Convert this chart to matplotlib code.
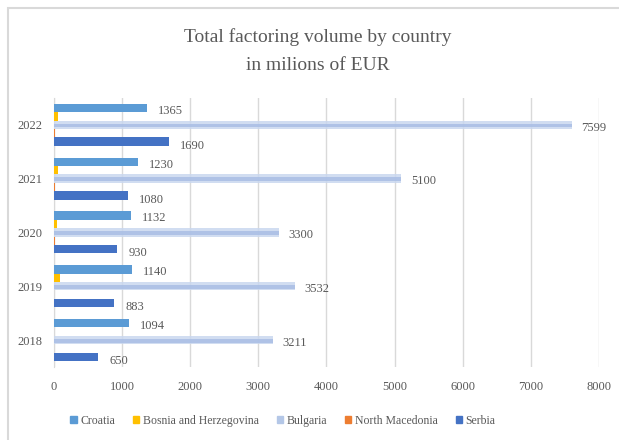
import numpy as np
import matplotlib
matplotlib.use("Agg")
import matplotlib.pyplot as plt
from matplotlib.patches import Rectangle, Patch

years = ["2018", "2019", "2020", "2021", "2022"]
croatia = [1094, 1140, 1132, 1230, 1365]
bosnia = [0, 83, 40, 63, 63]
bulgaria = [3211, 3532, 3300, 5100, 7599]
north_macedonia = [0, 0, 8, 8, 8]
serbia = [650, 883, 930, 1080, 1690]

plt.rcParams["font.family"] = ["Liberation Serif", "DejaVu Serif"]
txt = "#595959"

fig = plt.figure(figsize=(6.19, 4.40), dpi=100)
ax = fig.add_axes([0.0872, 0.166, 0.8805, 0.6113])

y = np.arange(len(years))
h = 1 / 6.4

# -------------------------------
# bars, top to bottom in each group
# -------------------------------
ax.barh(y + 2 * h, croatia, height=h, color="#5b9bd5", zorder=3)
ax.barh(y + h, bosnia, height=h, color="#ffc000", zorder=3)
ax.barh(y, bulgaria, height=h, color="#c9d7ef", alpha=0.85, zorder=3)
ax.barh(y - 0.08 * h, bulgaria, height=h * 0.45, color="#a9bee5", alpha=0.85, zorder=3)
ax.barh(y - h, north_macedonia, height=h, color="#ed7d31", zorder=3)
ax.barh(y - 2 * h, serbia, height=h, color="#4472c4", zorder=3)

for i in range(len(years)):
    ax.annotate(str(croatia[i]), (croatia[i], y[i] + 2 * h), xytext=(8, -2),
                textcoords="offset points", va="center", fontsize=9, color=txt)
    ax.annotate(str(bulgaria[i]), (bulgaria[i], y[i]), xytext=(7, -2),
                textcoords="offset points", va="center", fontsize=9, color=txt)
    ax.annotate(str(serbia[i]), (serbia[i], y[i] - 2 * h), xytext=(8, -3),
                textcoords="offset points", va="center", fontsize=9, color=txt)

ax.set_xlim(0, 8000)
ax.set_ylim(-0.5, 4.5)
ax.set_xticks(range(0, 8001, 1000))
ax.set_yticks(y)
ax.set_yticklabels(years)
ax.tick_params(axis="both", length=0, labelsize=9, labelcolor=txt)
ax.tick_params(axis="x", pad=10)
ax.tick_params(axis="y", pad=8)
ax.grid(axis="x", color="#d9d9d9", linewidth=1, zorder=0)
for s in ["top", "right", "bottom"]:
    ax.spines[s].set_visible(False)
ax.spines["left"].set_color("#d9d9d9")

fig.text(0.514, 0.916, "Total factoring volume by country", ha="center", va="center",
         fontsize=14, color=txt)
fig.text(0.514, 0.851, "in milions of EUR", ha="center", va="center",
         fontsize=14, color=txt)

handles = [
    Patch(color="#5b9bd5", label="Croatia"),
    Patch(color="#ffc000", label="Bosnia and Herzegovina"),
    Patch(color="#b4c7e7", label="Bulgaria"),
    Patch(color="#ed7d31", label="North Macedonia"),
    Patch(color="#4472c4", label="Serbia"),
]
leg = fig.legend(handles=handles, loc="center", bbox_to_anchor=(0.457, 0.044), ncol=5,
                 frameon=False, fontsize=8.5, handlelength=0.55, handleheight=0.55,
                 handletextpad=0.3, columnspacing=1.5)
for t in leg.get_texts():
    t.set_color(txt)

fig.patches.append(Rectangle((8 / 619, -0.1), 1.2, 1 - 8 / 440 + 0.1, transform=fig.transFigure,
                             fill=False, edgecolor="#d9d9d9", linewidth=1.5))

fig.savefig("out.png", dpi=100)
